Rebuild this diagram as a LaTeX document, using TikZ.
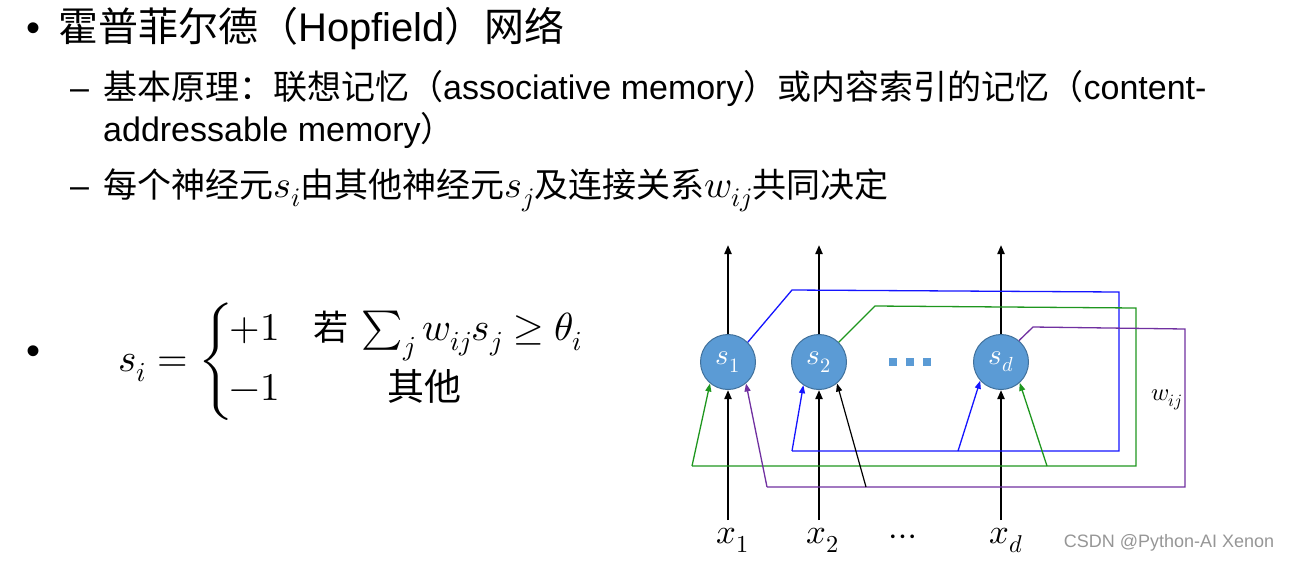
\documentclass[tikz,border=0pt]{standalone}
\usepackage{amsmath}
\usepackage{fontspec}
\usepackage{unicode-math}
\setmainfont{Liberation Sans}
\setmathfont{Latin Modern Math}[Scale=1.12]
\newfontfamily\cjk{Noto Sans CJK SC}
\newcommand\zh[1]{{\cjk #1}}
\usetikzlibrary{arrows.meta}
\definecolor{neuronfill}{RGB}{91,155,213}
\definecolor{neurondraw}{RGB}{65,113,156}
\definecolor{lblue}{RGB}{20,20,255}
\definecolor{lgreen}{RGB}{30,150,30}
\definecolor{lpurple}{RGB}{112,48,160}
\definecolor{wmark}{RGB}{150,150,150}
\tikzset{
  neuron/.style={circle, minimum size=55pt, inner sep=0pt, fill=neuronfill, draw=neurondraw, line width=1pt, text=white, font=\fontsize{26}{28}\selectfont},
  xlab/.style={inner sep=0pt, font=\fontsize{31}{33}\selectfont},
  mainarr/.style={line width=2pt, -{Triangle[length=9pt,width=7pt]}},
  tip/.style={-{Triangle[length=8pt,width=6pt]}},
  wire/.style={line width=1.3pt},
  body/.style={anchor=base west, inner sep=0pt, font=\fontsize{34}{38}\selectfont},
  titletext/.style={anchor=base west, inner sep=0pt, font=\fontsize{40}{44}\selectfont},
  dot/.style={fill=neuronfill, draw=none, minimum size=8pt, inner sep=0pt, rectangle},
}
\begin{document}
\begin{tikzpicture}[x=1pt,y=-1pt]
\useasboundingbox (0,0) rectangle (1289,563);
% text
\node[titletext] (b1) at (26,41) {•};
\node[titletext] (t1) at (58,41) {\zh{霍普菲尔德（}Hopfield\zh{）网络}};
\node[body] (d1) at (70,99) {–};
\node[body] (t2) at (103,99) {\zh{基本原理：联想记忆（}associative memory\zh{）或内容索引的记忆（}content-};
\node[body] (t3) at (103,141) {addressable memory\zh{）}};
\node[body] (d2) at (70,197) {–};
\node[body] (t4) at (103,197) {\zh{每个神经元}$s_i$\zh{由其他神经元}$s_j$\zh{及连接关系}$w_{ij}$\zh{共同决定}};
\node[titletext] (b2) at (26,364) {•};
% formula
\node[anchor=west, inner sep=0pt, font=\fontsize{35}{42}\selectfont] (eq) at (118,362)
  {$\displaystyle s_i = \left\{\mskip-2mu\begin{array}{@{}l@{\hspace{34pt}}l@{}} +1 & \text{\zh{若}}\,\textstyle\sum_j w_{ij}s_j \geq \theta_i\\[16pt] -1 & \hspace*{74pt}\text{\fontsize{37}{40}\selectfont\zh{其他}}\end{array}\right.$};
% neurons
\node[neuron] (s1) at (728,362) {$s_1$};
\node[neuron] (s2) at (819,362) {$s_2$};
\node[neuron] (sd) at (1001,362) {$s_d$};
\node[dot] (q1) at (893,362) {};
\node[dot] (q2) at (910,362) {};
\node[dot] (q3) at (927,362) {};
% inputs
\node[xlab, anchor=north] (x1) at (733,528) {$x_1$};
\node[xlab, anchor=north] (x2) at (823,528) {$x_2$};
\node[xlab] (xdots) at (903,540) {$\cdots$};
\node[xlab, anchor=north] (xd) at (1006,528) {$x_d$};
\coordinate (o1) at (728,245);
\coordinate (o2) at (819,245);
\coordinate (od) at (1001,245);
\draw[mainarr] (s1) -- (o1);
\draw[mainarr] (s2) -- (o2);
\draw[mainarr] (sd) -- (od);
\draw[mainarr] (728,520) -- (s1);
\draw[mainarr] (819,520) -- (s2);
\draw[mainarr] (1001,520) -- (sd);
% blue
\coordinate (bA) at (792,290); \coordinate (bB) at (1119,292);
\coordinate (bC) at (1119,451); \coordinate (bD) at (792,451); \coordinate (bE) at (958,451);
\draw[wire, lblue] (s1.45) -- (bA) -- (bB) -- (bC) -- (bD);
\draw[wire, lblue, tip] (bD) -- (s2.236);
\draw[wire, lblue, tip] (bE) -- (sd.222);
% green
\coordinate (gA) at (875,306); \coordinate (gB) at (1136,308);
\coordinate (gC) at (1136,466); \coordinate (gD) at (692,466); \coordinate (gE) at (1047,466);
\draw[wire, lgreen] (s2.45) -- (gA) -- (gB) -- (gC) -- (gD);
\draw[wire, lgreen, tip] (gD) -- (s1.230);
\draw[wire, lgreen, tip] (gE) -- (sd.312);
% purple
\coordinate (pA) at (1033,327); \coordinate (pB) at (1185,329);
\coordinate (pC) at (1185,487); \coordinate (pD) at (767,487);
\draw[wire, lpurple] (sd.50) -- (pA) -- (pB) -- (pC) -- (pD);
\draw[wire, lpurple, tip] (pD) -- (s1.310);
% black thin
\coordinate (kA) at (866,487);
\draw[line width=1.2pt, tip] (kA) -- (s2.310);
\node[inner sep=0pt, font=\fontsize{22}{24}\selectfont] (w) at (1167,400) {$w_{ij}$};
\node[inner sep=0pt, text=wmark, font=\fontsize{18}{20}\selectfont] (wm) at (1169,543) {CSDN @Python-AI Xenon};
\end{tikzpicture}
\end{document}
